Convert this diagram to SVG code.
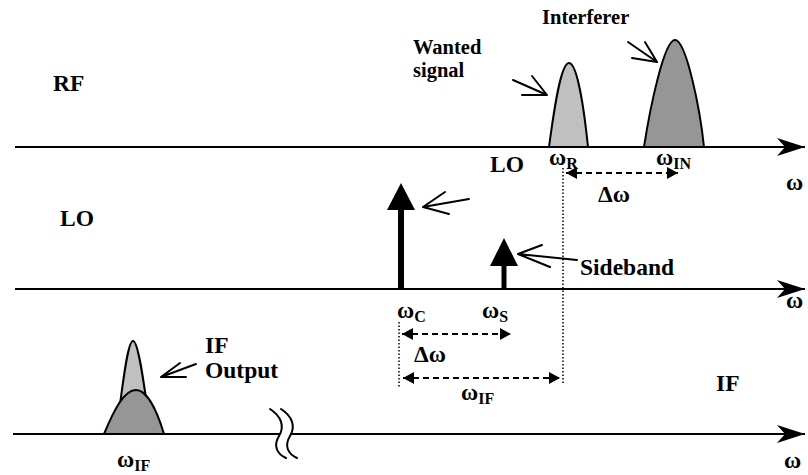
<svg xmlns="http://www.w3.org/2000/svg" width="808" height="475" viewBox="0 0 808 475">
<defs>
<style>
text{font-family:"Liberation Serif","Times New Roman",serif;font-weight:bold;fill:#000}
.lbl{font-size:23.5px}
.sm{font-size:20.5px}
.sub{font-size:16px}
.axis{stroke:#000;stroke-width:2;fill:none}
.ptr{stroke:#000;stroke-width:2;fill:none;stroke-linecap:round}
.dash{stroke:#000;stroke-width:2;fill:none;stroke-dasharray:6 4}
.dot{stroke:#000;stroke-width:1.5;fill:none;stroke-dasharray:1.5 2}
.hump{stroke:#000;stroke-width:2}
</style>
<marker id="ax" markerUnits="userSpaceOnUse" markerWidth="30" markerHeight="20" refX="28" refY="10" orient="auto">
<path d="M0,1 L28,10 L0,19 L8,10 Z" fill="#000"/>
</marker>
<marker id="ah" markerUnits="userSpaceOnUse" markerWidth="12" markerHeight="12" refX="11" refY="6" orient="auto-start-reverse">
<path d="M0,0 L11,6 L0,12 Z" fill="#000"/>
</marker>
</defs>
<rect width="808" height="475" fill="#fff"/>

<g id="axes">
<line class="axis" x1="15" y1="147" x2="805" y2="147" marker-end="url(#ax)"/>
<line class="axis" x1="15" y1="289" x2="805" y2="289" marker-end="url(#ax)"/>
<line class="axis" x1="13" y1="434" x2="279" y2="434"/>
<line class="axis" x1="291" y1="434" x2="805" y2="434" marker-end="url(#ax)"/>
<path class="ptr" d="M270,409 C281,416 285,426 279,436 C273,446 277,454 286,458"/>
<path class="ptr" d="M281,409 C292,416 296,426 290,436 C284,446 288,454 297,458"/>
</g>

<g id="rf-label"><text class="lbl" x="53" y="91">RF</text></g>
<g id="lo-label"><text class="lbl" x="60" y="226">LO</text></g>
<g id="if-label"><text class="lbl" x="716" y="391">IF</text></g>

<g id="wanted-signal">
<path class="hump" fill="#c0c0c0" d="M549,147 C553,118 560,63 569,63 C578,63 585,118 588,147 Z"/>
<text class="sm" x="413" y="54">Wanted</text>
<text class="sm" x="413" y="77">signal</text>
</g>
<g id="interferer">
<path class="hump" fill="#969696" d="M644,147 C650,108 664,40 675,40 C686,40 700,108 704,147 Z"/>
<text class="sm" x="542" y="24">Interferer</text>
</g>

<g id="lo-tone">
<rect x="398" y="208" width="6" height="81" fill="#000"/>
<path d="M401,183 L415,210 L387,210 Z" fill="#000"/>
<text class="lbl" x="490" y="172">LO</text>
</g>
<g id="sideband">
<rect x="501.5" y="264" width="5" height="25" fill="#000"/>
<path d="M504,238 L518,266 L490,266 Z" fill="#000"/>
<text class="lbl" x="580" y="275">Sideband</text>
</g>

<g id="if-output">
<path class="hump" fill="#c0c0c0" d="M116,434 C122,392 127,341 133,341 C139,341 145,392 151,434 Z"/>
<path class="hump" fill="#969696" d="M104,434 C114,410 124,390 136,390 C148,390 158,414 164,434 Z"/>
<text class="lbl" x="205" y="353">IF</text>
<text class="lbl" x="205" y="378">Output</text>
</g>

<g id="freq-labels">
<text class="lbl" x="549" y="165">ω<tspan class="sub" dy="4">R</tspan></text>
<text class="lbl" x="656" y="165">ω<tspan class="sub" dy="4">IN</tspan></text>
<text class="lbl" x="786" y="190">ω</text>
<text class="lbl" x="397" y="318">ω<tspan class="sub" dy="4">C</tspan></text>
<text class="lbl" x="482" y="318">ω<tspan class="sub" dy="4">S</tspan></text>
<text class="lbl" x="786" y="308">ω</text>
<text class="lbl" x="598" y="202">Δω</text>
<text class="lbl" x="414" y="362">Δω</text>
<text class="lbl" x="461" y="400">ω<tspan class="sub" dy="4">IF</tspan></text>
<text class="lbl" x="117" y="467">ω<tspan class="sub" dy="4">IF</tspan></text>
<text class="lbl" x="784" y="468">ω</text>
</g>

<g id="connectors">
<path class="ptr" d="M513,80 L547,95 M522,95 L547,95 M532,76 L547,95"/>
<path class="ptr" d="M628,42 L657,62 M632,58 L657,62 M645,42 L657,62"/>
<path class="ptr" d="M469,199 L423,207 M445,192 L423,207 M449,214 L423,207"/>
<path class="ptr" d="M577,260 L518,254 M542,245 L518,254 M550,267 L518,254"/>
<path class="ptr" d="M196,364 L161,377 M180,363 L161,377 M186,377 L161,377"/>
<line class="dot" x1="563" y1="168" x2="563" y2="385"/>
<line class="dot" x1="399" y1="322" x2="399" y2="387"/>
<line class="dash" x1="566" y1="173" x2="678" y2="173" marker-start="url(#ah)" marker-end="url(#ah)"/>
<line class="dash" x1="402" y1="334" x2="511" y2="334" marker-start="url(#ah)" marker-end="url(#ah)"/>
<line class="dash" x1="403" y1="378" x2="560" y2="378" marker-start="url(#ah)" marker-end="url(#ah)"/>
</g>
</svg>
